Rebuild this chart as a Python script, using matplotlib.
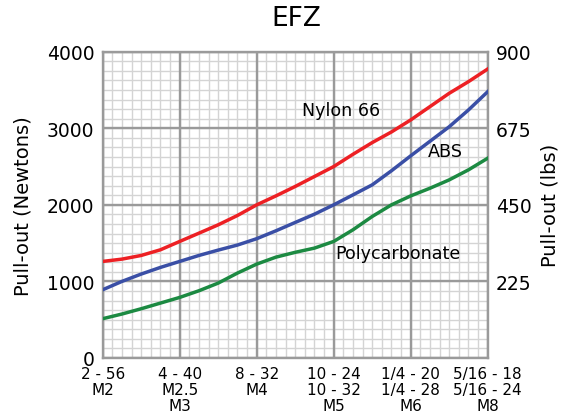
import matplotlib
matplotlib.use("Agg")
import matplotlib.pyplot as plt
import numpy as np

# ---- data ----
categories = ["2 - 56\nM2", "4 - 40\nM2.5\nM3", "8 - 32\nM4",
              "10 - 24\n10 - 32\nM5", "1/4 - 20\n1/4 - 28\nM6", "5/16 - 18\n5/16 - 24\nM8"]
# sample positions (category index, quarter steps)
x_pos = [0, 0.25, 0.5, 0.75, 1, 1.25, 1.5, 1.75, 2, 2.25, 2.5,
         2.75, 3, 3.25, 3.5, 3.75, 4, 4.25, 4.5, 4.75, 5]
nylon66 = [1261, 1291, 1339, 1413, 1522, 1630, 1739, 1861, 2000, 2117, 2240,
           2370, 2500, 2660, 2813, 2952, 3109, 3283, 3457, 3609, 3774]
abs_vals = [891, 1000, 1096, 1183, 1261, 1339, 1409, 1475, 1558, 1661, 1770,
            1878, 2000, 2130, 2261, 2445, 2640, 2830, 3020, 3239, 3478]
polycarb = [513, 574, 643, 717, 791, 878, 978, 1109, 1226, 1317, 1380,
            1435, 1522, 1674, 1848, 2000, 2117, 2217, 2326, 2457, 2609]
left_ticks = [0, 1000, 2000, 3000, 4000]
right_ticks = [225, 450, 675, 900]

plt.rcParams['font.family'] = ['DejaVu Sans']

fig = plt.figure(figsize=(5.75, 4.14), dpi=100)
ax = fig.add_axes([0.1786, 0.1329, 0.6696, 0.7398])

ymax = 4000
nx = len(categories) - 1
ax.set_xlim(0, nx)
ax.set_ylim(0, ymax)

minor_c, major_c = '#d4d4d4', '#9a9a9a'
for xv in np.arange(0, nx + 1e-9, 1 / 8):
    ax.axvline(xv, color=minor_c, lw=1.0, zorder=0.5)
for yv in np.arange(0, ymax + 1e-9, 125):
    ax.axhline(yv, color=minor_c, lw=1.0, zorder=0.5)
for xv in range(nx + 1):
    ax.axvline(xv, color=major_c, lw=1.7, zorder=0.8)
for yv in left_ticks:
    ax.axhline(yv, color=major_c, lw=1.7, zorder=0.8)
for s in ax.spines.values():
    s.set_color(major_c)
    s.set_linewidth(1.7)

ax.set_xticks(range(len(categories)))
ax.set_xticklabels(categories, fontsize=11, linespacing=1.05, va='top')
ax.set_yticks(left_ticks)
ax.set_yticklabels([str(v) for v in left_ticks], fontsize=13.5)
ax.tick_params(which='both', length=0)
ax.tick_params(axis='y', pad=6)
ax.tick_params(axis='x', pad=6)

ax.plot(x_pos, nylon66, color='#ed2024', lw=2.5, zorder=3)
ax.plot(x_pos, abs_vals, color='#3a4fa6', lw=2.5, zorder=3)
ax.plot(x_pos, polycarb, color='#1c8a42', lw=2.5, zorder=3)

ax.text(3.09, 3245, "Nylon 66", fontsize=12.6, ha='center', va='center', zorder=4)
ax.text(4.45, 2700, "ABS", fontsize=12.6, ha='center', va='center', zorder=4)
ax.text(3.83, 1370, "Polycarbonate", fontsize=12.6, ha='center', va='center', zorder=4)

ax.set_ylabel("Pull-out (Newtons)", fontsize=14, labelpad=10)

ax2 = ax.twinx()
ax2.set_ylim(0, 900)
ax2.set_yticks(right_ticks)
ax2.set_yticklabels([str(v) for v in right_ticks], fontsize=13.5)
ax2.tick_params(length=0, pad=6)
for s in ax2.spines.values():
    s.set_visible(False)
ax2.set_ylabel("Pull-out (lbs)", fontsize=14, labelpad=6)

fig.suptitle("EFZ", fontsize=19, x=0.515, y=0.985)

fig.savefig("out.png", dpi=100)
